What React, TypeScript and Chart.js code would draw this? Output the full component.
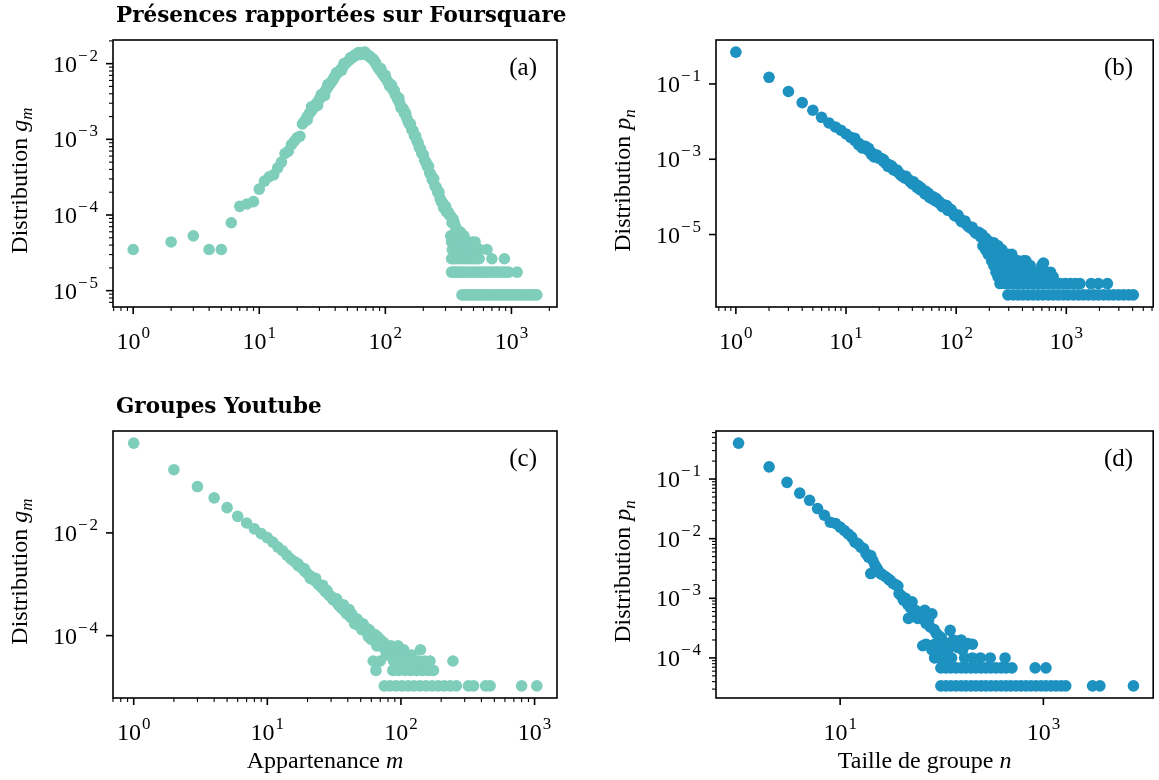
import React, { useEffect, useRef } from "react";
import { Chart, registerables } from "chart.js";

Chart.register(...registerables);

type Pt = [number, number];

// ---------------- DATA ----------------
const TITLES = ["Présences rapportées sur Foursquare", "Groupes Youtube"];
const PANEL_LABELS = ["(a)", "(b)", "(c)", "(d)"];
const Y_TITLE_TEXT = "Distribution ";
const X_TITLE_TEXTS = ["Appartenance ", "Taille de groupe "];
const VAR_MEMBERSHIP = ["g", "m"];
const VAR_SIZE = ["p", "n"];

// tick exponents (labels 10^k)
const A_X_EXP = [0, 1, 2, 3];
const A_Y_EXP = [-5, -4, -3, -2];
const B_X_EXP = [0, 1, 2, 3];
const B_Y_EXP = [-5, -3, -1];
const C_X_EXP = [0, 1, 2, 3];
const C_Y_EXP = [-4, -2];
const D_X_EXP = [1, 3];
const D_Y_EXP = [-4, -3, -2, -1];

// (a) Foursquare membership distribution g_m
const FSQ_G_BAND: Pt[] = [
  [1, 3.5e-5], [2, 4.4e-5], [3, 5.3e-5], [4, 3.5e-5], [5, 3.5e-5], [6, 7.9e-5], [7, 1.3e-4], [8, 1.4e-4], [9, 1.5e-4], [10, 2.2e-4],
  [11, 2.8e-4], [12, 3.2e-4], [13, 3.4e-4], [14, 4.2e-4], [15, 5.0e-4], [16, 6.5e-4], [17, 7.0e-4], [18, 8.5e-4], [19, 9.5e-4], [20, 1.05e-3],
  [21, 1.1e-3], [22, 1.6e-3], [23, 1.75e-3], [24, 2.0e-3], [25, 2.2e-3], [26, 2.4e-3], [27, 2.6e-3], [28, 2.9e-3], [29, 3.1e-3], [30, 3.4e-3],
  [31, 3.6e-3], [32, 3.9e-3], [33, 4.2e-3], [34, 4.6e-3], [35, 4.9e-3], [36, 5.3e-3], [37, 5.6e-3], [38, 6.0e-3], [39, 6.4e-3], [40, 6.9e-3],
  [42, 7.6e-3], [44, 8.3e-3], [46, 9.0e-3], [48, 9.9e-3], [50, 1.06e-2], [52, 1.12e-2], [54, 1.18e-2], [56, 1.24e-2], [58, 1.28e-2], [60, 1.33e-2],
  [62, 1.36e-2], [64, 1.38e-2], [66, 1.40e-2], [68, 1.38e-2], [70, 1.35e-2], [72, 1.30e-2], [75, 1.24e-2], [78, 1.17e-2], [81, 1.10e-2], [84, 1.0e-2],
  [87, 9.0e-3], [90, 8.3e-3], [94, 7.5e-3], [98, 6.8e-3], [102, 6.2e-3], [106, 5.6e-3], [110, 5.1e-3], [115, 4.5e-3], [120, 3.9e-3], [125, 3.4e-3],
  [130, 3.0e-3], [136, 2.6e-3], [142, 2.2e-3], [148, 1.9e-3], [155, 1.6e-3], [162, 1.35e-3], [170, 1.12e-3], [178, 9.5e-4], [186, 7.8e-4], [195, 6.5e-4],
  [205, 5.3e-4], [215, 4.4e-4], [225, 3.6e-4], [236, 2.9e-4], [248, 2.4e-4], [260, 2.0e-4], [272, 1.65e-4], [285, 1.45e-4], [300, 1.3e-4], [315, 1.1e-4],
  [330, 9.7e-5], [345, 8.8e-5], [360, 7.0e-5], [380, 6.2e-5], [395, 5.9e-5],
  [24, 1.8e-3], [26, 2.7e-3], [29, 2.8e-3], [31, 3.9e-3], [33, 3.8e-3], [35, 5.3e-3], [41, 7.6e-3], [45, 8.2e-3], [47, 1.0e-2], [53, 1.2e-2],
  [57, 1.3e-2], [61, 1.4e-2], [63, 1.32e-2], [67, 1.34e-2], [69, 1.42e-2], [74, 1.28e-2], [77, 1.2e-2], [80, 1.15e-2], [83, 1.05e-2], [92, 8.6e-3],
  [96, 7.3e-3], [100, 7.0e-3], [108, 5.1e-3], [112, 5.2e-3], [118, 4.4e-3], [128, 3.5e-3], [133, 2.6e-3], [139, 2.5e-3], [145, 2.2e-3], [152, 1.7e-3],
  [158, 1.6e-3], [166, 1.3e-3], [174, 1.1e-3], [182, 9.0e-4], [190, 7.5e-4], [200, 6.3e-4], [210, 5.0e-4], [220, 4.4e-4], [230, 3.4e-4], [242, 3.0e-4],
  [254, 2.3e-4], [266, 2.0e-4], [278, 1.5e-4], [290, 1.25e-4], [305, 1.1e-4], [322, 1.0e-4], [338, 7.9e-5], [352, 7.9e-5], [370, 6.2e-5], [385, 5.3e-5],
];
const FSQ_G_TAIL: Pt[] = [
  [330, 5.3e-5], [350, 5.3e-5], [372, 5.3e-5], [400, 5.3e-5], [420, 5.3e-5],
  [335, 4.4e-5], [355, 4.4e-5], [378, 4.4e-5], [405, 4.4e-5], [430, 4.4e-5], [455, 4.4e-5], [490, 4.4e-5], [515, 4.4e-5],
  [340, 3.5e-5], [365, 3.5e-5], [390, 3.5e-5], [415, 3.5e-5], [440, 3.5e-5], [470, 3.5e-5], [500, 3.5e-5], [560, 3.5e-5], [640, 3.5e-5],
  [335, 2.64e-5], [350, 2.64e-5], [370, 2.64e-5], [390, 2.64e-5], [410, 2.64e-5], [430, 2.64e-5], [455, 2.64e-5], [480, 2.64e-5], [505, 2.64e-5],
  [530, 2.64e-5], [555, 2.64e-5], [700, 2.64e-5], [880, 2.64e-5],
  [335, 1.76e-5], [350, 1.76e-5], [365, 1.76e-5], [380, 1.76e-5], [400, 1.76e-5], [420, 1.76e-5], [445, 1.76e-5], [470, 1.76e-5], [495, 1.76e-5],
  [520, 1.76e-5], [550, 1.76e-5], [580, 1.76e-5], [610, 1.76e-5], [640, 1.76e-5], [680, 1.76e-5], [720, 1.76e-5], [760, 1.76e-5], [800, 1.76e-5],
  [850, 1.76e-5], [900, 1.76e-5], [950, 1.76e-5], [1110, 1.76e-5],
  [405, 8.8e-6], [420, 8.8e-6], [440, 8.8e-6], [460, 8.8e-6], [485, 8.8e-6], [510, 8.8e-6], [535, 8.8e-6], [560, 8.8e-6], [590, 8.8e-6],
  [620, 8.8e-6], [650, 8.8e-6], [690, 8.8e-6], [730, 8.8e-6], [770, 8.8e-6], [810, 8.8e-6], [860, 8.8e-6], [910, 8.8e-6], [960, 8.8e-6],
  [1010, 8.8e-6], [1070, 8.8e-6], [1130, 8.8e-6], [1200, 8.8e-6], [1270, 8.8e-6], [1350, 8.8e-6], [1430, 8.8e-6], [1510, 8.8e-6], [1590, 8.8e-6],
];

// (b) Foursquare group size distribution p_n
const FSQ_P_BAND: Pt[] = [
  [1, 0.7], [2, 0.15], [3, 0.063], [4, 0.032], [5, 0.02], [6, 0.013], [7, 9.2e-3], [8, 7.2e-3], [9, 5.9e-3], [10, 4.7e-3],
  [11, 3.83e-3], [12, 3.18e-3], [13, 2.67e-3], [14, 2.28e-3], [15, 1.97e-3], [16, 1.71e-3], [17, 1.5e-3], [18, 1.33e-3], [19, 1.18e-3], [20, 1.06e-3],
  [22, 8.6e-4], [24, 7.2e-4], [26, 6.0e-4], [28, 5.1e-4], [30, 4.4e-4], [33, 3.6e-4], [36, 3.0e-4], [39, 2.5e-4], [42, 2.15e-4], [46, 1.77e-4],
  [50, 1.48e-4], [54, 1.25e-4], [58, 1.07e-4], [63, 9.0e-5], [68, 7.6e-5], [74, 6.4e-5], [80, 5.4e-5], [87, 4.5e-5], [94, 3.7e-5], [100, 3.1e-5],
  [108, 2.6e-5], [116, 2.2e-5], [125, 1.8e-5], [135, 1.5e-5], [145, 1.25e-5], [155, 1.05e-5], [167, 8.6e-6], [180, 7.2e-6], [195, 6.0e-6], [210, 5.0e-6],
  [12, 3.6e-3], [14, 2.0e-3], [16, 1.95e-3], [18, 1.15e-3], [21, 1.05e-3], [23, 7.8e-4], [25, 7.0e-4], [27, 5.2e-4], [29, 5.2e-4], [32, 3.6e-4],
  [35, 3.5e-4], [38, 2.6e-4], [41, 2.5e-4], [44, 1.8e-4], [48, 1.75e-4], [52, 1.2e-4], [56, 1.25e-4], [60, 9.0e-5], [66, 9.0e-5], [71, 6.6e-5],
  [77, 6.2e-5], [84, 4.4e-5], [90, 4.6e-5], [97, 3.2e-5], [104, 3.3e-5], [112, 2.2e-5], [120, 2.3e-5], [130, 1.6e-5], [140, 1.55e-5], [150, 1.1e-5],
  [160, 1.15e-5], [172, 1.0e-5], [185, 8.0e-6], [200, 6.5e-6], [220, 6.0e-6], [240, 4.5e-6],
  [13, 2.45e-3], [15, 2.2e-3], [17, 1.35e-3], [19, 1.3e-3], [22, 9.6e-4], [24, 6.5e-4], [26, 6.6e-4], [31, 4.0e-4], [34, 3.2e-4], [37, 2.9e-4],
  [40, 2.2e-4], [45, 2.0e-4], [47, 1.55e-4], [53, 1.4e-4], [57, 9.8e-5], [62, 1.0e-4], [65, 7.8e-5], [70, 7.5e-5], [75, 5.5e-5], [82, 5.9e-5],
];
const FSQ_P_TAIL: Pt[] = [
  [175, 5e-6], [195, 5e-6], [220, 5e-6], [240, 5e-6],
  [185, 4e-6], [205, 4e-6], [230, 4e-6], [260, 4e-6],
  [195, 3e-6], [215, 3e-6], [240, 3e-6], [265, 3e-6], [295, 3e-6], [320, 3e-6],
  [210, 2e-6], [235, 2e-6], [260, 2e-6], [290, 2e-6], [325, 2e-6], [365, 2e-6], [410, 2e-6], [430, 2e-6],
  [620, 1.75e-6],
  [220, 1.5e-6], [245, 1.5e-6], [275, 1.5e-6], [305, 1.5e-6], [340, 1.5e-6], [380, 1.5e-6], [420, 1.5e-6], [470, 1.5e-6], [600, 1.5e-6],
  [230, 1e-6], [255, 1e-6], [285, 1e-6], [320, 1e-6], [355, 1e-6], [395, 1e-6], [440, 1e-6], [490, 1e-6], [545, 1e-6], [610, 1e-6], [680, 1e-6], [720, 1e-6],
  [240, 7.5e-7], [265, 7.5e-7], [295, 7.5e-7], [330, 7.5e-7], [365, 7.5e-7], [405, 7.5e-7], [450, 7.5e-7], [500, 7.5e-7], [555, 7.5e-7], [615, 7.5e-7], [685, 7.5e-7], [760, 7.5e-7],
  [250, 5e-7], [280, 5e-7], [310, 5e-7], [345, 5e-7], [385, 5e-7], [425, 5e-7], [470, 5e-7], [520, 5e-7], [575, 5e-7], [640, 5e-7], [710, 5e-7],
  [790, 5e-7], [880, 5e-7], [980, 5e-7], [1090, 5e-7], [1210, 5e-7], [1330, 5e-7], [1680, 5e-7], [1950, 5e-7], [2360, 5e-7],
  [295, 2.5e-7], [330, 2.5e-7], [365, 2.5e-7], [405, 2.5e-7], [450, 2.5e-7], [500, 2.5e-7], [555, 2.5e-7], [615, 2.5e-7], [685, 2.5e-7],
  [760, 2.5e-7], [845, 2.5e-7], [940, 2.5e-7], [1040, 2.5e-7], [1160, 2.5e-7], [1290, 2.5e-7], [1430, 2.5e-7], [1590, 2.5e-7], [1770, 2.5e-7],
  [1960, 2.5e-7], [2180, 2.5e-7], [2420, 2.5e-7], [2690, 2.5e-7], [2990, 2.5e-7], [3320, 2.5e-7], [3690, 2.5e-7], [4060, 2.5e-7],
];

// (c) Youtube membership distribution g_m
const YT_G_BAND: Pt[] = [
  [1, 0.56], [2, 0.17], [3, 0.08], [4, 0.048], [5, 0.031], [6, 0.021], [7, 0.0156], [8, 0.012], [9, 9.7e-3], [10, 8.1e-3],
  [11, 6.6e-3], [12, 5.3e-3], [13, 4.5e-3], [14, 3.7e-3], [15, 3.1e-3], [16, 2.75e-3], [17, 2.3e-3], [18, 2.1e-3], [19, 1.8e-3], [20, 1.6e-3],
  [21, 1.45e-3], [22, 1.25e-3], [23, 1.15e-3], [24, 1.0e-3], [25, 9.2e-4], [26, 8.3e-4], [27, 7.3e-4], [28, 6.8e-4], [29, 6.1e-4], [30, 5.8e-4],
  [32, 4.8e-4], [34, 4.0e-4], [36, 3.4e-4], [38, 3.0e-4], [40, 2.6e-4], [42, 2.3e-4], [44, 2.1e-4], [46, 1.9e-4], [48, 1.6e-4], [50, 1.5e-4],
  [53, 1.3e-4], [56, 1.15e-4], [59, 1.0e-4], [62, 9.5e-5], [65, 8.4e-5], [68, 7.4e-5], [72, 6.3e-5], [76, 5.3e-5],
  [17, 2.5e-3], [19, 2.0e-3], [21, 1.3e-3], [23, 1.3e-3], [26, 9.5e-4], [28, 7.5e-4], [31, 5.0e-4], [33, 5.2e-4], [35, 3.7e-4], [37, 4.0e-4],
  [39, 2.7e-4], [41, 3.2e-4], [43, 2.6e-4], [45, 1.7e-4], [47, 2.1e-4], [49, 1.8e-4], [51, 1.3e-4], [52, 1.7e-4], [55, 1.4e-4], [57, 9.5e-5],
  [58, 1.3e-4], [60, 8.4e-5], [61, 1.05e-4], [64, 1.05e-4], [66, 6.3e-5], [67, 9.5e-5], [70, 8.4e-5], [74, 7.4e-5], [78, 4.2e-5], [80, 5.3e-5],
  [84, 6.3e-5], [88, 5.3e-5], [92, 4.2e-5], [95, 6.3e-5],
];
const YT_G_TAIL: Pt[] = [
  [90, 5.3e-5], [105, 5.3e-5], [140, 5.3e-5],
  [85, 4.2e-5], [100, 4.2e-5], [120, 4.2e-5],
  [62, 3.2e-5], [70, 3.2e-5], [88, 3.2e-5], [100, 3.2e-5], [110, 3.2e-5], [122, 3.2e-5], [135, 3.2e-5], [150, 3.2e-5], [165, 3.2e-5], [245, 3.2e-5],
  [65, 2.1e-5], [87, 2.1e-5], [96, 2.1e-5], [107, 2.1e-5], [118, 2.1e-5], [131, 2.1e-5], [145, 2.1e-5], [161, 2.1e-5], [175, 2.1e-5],
  [75, 1.05e-5], [83, 1.05e-5], [92, 1.05e-5], [102, 1.05e-5], [113, 1.05e-5], [125, 1.05e-5], [139, 1.05e-5], [154, 1.05e-5], [171, 1.05e-5],
  [190, 1.05e-5], [211, 1.05e-5], [234, 1.05e-5], [260, 1.05e-5], [320, 1.05e-5], [350, 1.05e-5], [430, 1.05e-5], [465, 1.05e-5], [800, 1.05e-5], [1040, 1.05e-5],
];

// (d) Youtube group size distribution p_n
const YT_P_BAND: Pt[] = [
  [1, 0.4], [2, 0.16], [3, 0.088], [4, 0.058], [5, 0.044], [6, 0.032], [7, 0.0247], [8, 0.0189], [9, 0.018], [10, 0.0156],
  [11, 0.0137], [12, 0.012], [13, 0.0106], [14, 8.7e-3], [15, 8.2e-3], [16, 7.2e-3], [17, 6.8e-3], [18, 5.6e-3], [19, 4.9e-3], [20, 5.2e-3],
  [20, 2.6e-3], [21, 4.3e-3], [22, 3.6e-3], [23, 3.2e-3], [24, 2.8e-3], [25, 2.6e-3], [26, 2.5e-3], [28, 2.3e-3], [30, 2.1e-3], [31, 2.0e-3],
  [33, 1.8e-3], [35, 1.7e-3], [37, 1.6e-3], [38, 1.2e-3], [40, 1.1e-3], [42, 9.3e-4], [44, 1.0e-3], [46, 8.0e-4], [47, 4.6e-4], [49, 7.0e-4],
  [51, 8.7e-4], [53, 6.5e-4], [55, 6.3e-4], [58, 4.6e-4], [60, 5.5e-4], [63, 4.8e-4], [65, 1.6e-4], [68, 6.3e-4], [70, 3.8e-4], [74, 4.3e-4],
  [77, 3.3e-4], [80, 5.5e-4], [84, 3.0e-4], [88, 2.6e-4], [92, 2.4e-4], [99, 2.2e-4], [103, 1.5e-4], [111, 1.75e-4], [121, 2.9e-4], [130, 2.0e-4],
  [143, 1.5e-4], [155, 2.0e-4], [168, 1.6e-4], [181, 1.75e-4],
];
const YT_P_TAIL: Pt[] = [
  [70, 1.7e-4], [85, 1.7e-4], [150, 1.7e-4], [200, 1.7e-4],
  [80, 1.36e-4], [92, 1.36e-4], [100, 1.36e-4], [115, 1.36e-4], [160, 1.36e-4],
  [85, 1.0e-4], [95, 1.0e-4], [110, 1.0e-4], [125, 1.0e-4], [168, 1.0e-4], [200, 1.0e-4], [240, 1.0e-4], [300, 1.0e-4], [420, 1.0e-4],
  [98, 6.8e-5], [110, 6.8e-5], [123, 6.8e-5], [138, 6.8e-5], [155, 6.8e-5], [173, 6.8e-5], [194, 6.8e-5], [217, 6.8e-5], [243, 6.8e-5],
  [272, 6.8e-5], [305, 6.8e-5], [342, 6.8e-5], [383, 6.8e-5], [429, 6.8e-5], [490, 6.8e-5], [830, 6.8e-5], [1060, 6.8e-5],
  [98, 3.4e-5], [110, 3.4e-5], [123, 3.4e-5], [138, 3.4e-5], [155, 3.4e-5], [173, 3.4e-5], [194, 3.4e-5], [217, 3.4e-5], [243, 3.4e-5],
  [272, 3.4e-5], [305, 3.4e-5], [342, 3.4e-5], [383, 3.4e-5], [429, 3.4e-5], [480, 3.4e-5], [538, 3.4e-5], [602, 3.4e-5], [675, 3.4e-5],
  [756, 3.4e-5], [846, 3.4e-5], [948, 3.4e-5], [1060, 3.4e-5], [1190, 3.4e-5], [1330, 3.4e-5], [1490, 3.4e-5], [1660, 3.4e-5],
  [3050, 3.4e-5], [3600, 3.4e-5], [7700, 3.4e-5],
];

// ---------------- STYLE ----------------
const SERIF = '"Liberation Serif", "Times New Roman", serif';
const BOLD_SERIF = '"DejaVu Serif", serif';
const MINT = "#7fcdbb";
const BLUE = "#1d91c0";
const TICK_SIZE = 24;
const SUP_SIZE = 17;
const AXIS_TITLE_SIZE = 24;
const PANEL_LABEL_SIZE = 25;

type Box = { l: number; t: number; r: number; b: number };
type PanelCfg = {
  x0: number; y0: number; w: number; h: number; box: Box;
  pts: Pt[]; color: string;
  xExp: number[]; yExp: number[]; xMinor: boolean; yMinor: boolean;
  label: string; title?: string; yVar: string[]; xTitle?: string; xVar?: string[];
};

const PANELS: PanelCfg[] = [
  { x0: 0, y0: 0, w: 640, h: 390, box: { l: 113, t: 40, r: 557, b: 307 }, pts: [...FSQ_G_BAND, ...FSQ_G_TAIL], color: MINT,
    xExp: A_X_EXP, yExp: A_Y_EXP, xMinor: true, yMinor: true, label: PANEL_LABELS[0], title: TITLES[0], yVar: VAR_MEMBERSHIP },
  { x0: 580, y0: 0, w: 579, h: 390, box: { l: 136, t: 40, r: 578, b: 307 }, pts: [...FSQ_P_BAND, ...FSQ_P_TAIL], color: BLUE,
    xExp: B_X_EXP, yExp: B_Y_EXP, xMinor: true, yMinor: false, label: PANEL_LABELS[1], yVar: VAR_SIZE },
  { x0: 0, y0: 390, w: 640, h: 390, box: { l: 113, t: 41, r: 557, b: 308 }, pts: [...YT_G_BAND, ...YT_G_TAIL], color: MINT,
    xExp: C_X_EXP, yExp: C_Y_EXP, xMinor: true, yMinor: false, label: PANEL_LABELS[2], title: TITLES[1], yVar: VAR_MEMBERSHIP,
    xTitle: X_TITLE_TEXTS[0], xVar: ["m"] },
  { x0: 580, y0: 390, w: 579, h: 390, box: { l: 136, t: 41, r: 578, b: 308 }, pts: [...YT_P_BAND, ...YT_P_TAIL], color: BLUE,
    xExp: D_X_EXP, yExp: D_Y_EXP, xMinor: false, yMinor: true, label: PANEL_LABELS[3], yVar: VAR_SIZE,
    xTitle: X_TITLE_TEXTS[1], xVar: ["n"] },
];

function logRange(vals: number[]): [number, number] {
  const lo = Math.log10(Math.min(...vals));
  const hi = Math.log10(Math.max(...vals));
  const m = (hi - lo) * 0.05;
  return [Math.pow(10, lo - m), Math.pow(10, hi + m)];
}

type Seg = { t: string; it?: boolean; sub?: boolean };
function segFont(s: Seg, size: number) {
  const sz = s.sub ? Math.round(size * 0.7) : size;
  return `${s.it ? "italic " : ""}${sz}px ${SERIF}`;
}
function drawRich(ctx: CanvasRenderingContext2D, segs: Seg[], x: number, y: number, size: number, align: "left" | "center") {
  let w = 0;
  for (const s of segs) { ctx.font = segFont(s, size); w += ctx.measureText(s.t).width; }
  let cx = align === "center" ? x - w / 2 : x;
  ctx.textAlign = "left";
  ctx.textBaseline = "alphabetic";
  for (const s of segs) {
    ctx.font = segFont(s, size);
    ctx.fillText(s.t, cx, y + (s.sub ? size * 0.22 : 0));
    cx += ctx.measureText(s.t).width;
  }
}
function drawPow(ctx: CanvasRenderingContext2D, exp: number, x: number, y: number, align: "center" | "right") {
  const neg = exp < 0;
  const digits = String(Math.abs(exp));
  ctx.font = `${TICK_SIZE}px ${SERIF}`;
  const wb = ctx.measureText("10").width;
  ctx.font = `${SUP_SIZE}px ${SERIF}`;
  const wm = neg ? ctx.measureText("\u2212").width + 2 : 0;
  const wd = ctx.measureText(digits).width;
  const w = wb + 1 + wm + wd;
  const x0 = align === "center" ? x - w / 2 : x - w;
  ctx.textAlign = "left";
  ctx.textBaseline = "alphabetic";
  ctx.font = `${TICK_SIZE}px ${SERIF}`;
  ctx.fillText("10", x0, y);
  ctx.font = `${SUP_SIZE}px ${SERIF}`;
  if (neg) ctx.fillText("\u2212", x0 + wb + 1, y - 11);
  ctx.fillText(digits, x0 + wb + 1 + wm, y - 11);
}

function minorValues(min: number, max: number): number[] {
  const out: number[] = [];
  for (let k = Math.floor(Math.log10(min)); k <= Math.ceil(Math.log10(max)); k++) {
    for (let d = 2; d <= 9; d++) {
      const v = d * Math.pow(10, k);
      if (v >= min && v <= max) out.push(v);
    }
  }
  return out;
}

function makeAxesPlugin(cfg: PanelCfg) {
  return {
    id: "mplAxes",
    afterDraw(chart: any) {
      const ctx: CanvasRenderingContext2D = chart.ctx;
      const xs = chart.scales.x;
      const ys = chart.scales.y;
      const { left, right, top, bottom } = chart.chartArea;
      ctx.save();
      ctx.strokeStyle = "#000";
      ctx.fillStyle = "#000";
      ctx.lineWidth = 1.6;
      ctx.strokeRect(left, top, right - left, bottom - top);
      ctx.lineWidth = 1.1;
      if (cfg.xMinor) {
        for (const v of minorValues(xs.min, xs.max)) {
          const px = xs.getPixelForValue(v);
          ctx.beginPath(); ctx.moveTo(px, bottom); ctx.lineTo(px, bottom + 4); ctx.stroke();
        }
      }
      if (cfg.yMinor) {
        for (const v of minorValues(ys.min, ys.max)) {
          const py = ys.getPixelForValue(v);
          ctx.beginPath(); ctx.moveTo(left, py); ctx.lineTo(left - 4, py); ctx.stroke();
        }
      }
      ctx.lineWidth = 1.6;
      for (const e of cfg.xExp) {
        const px = xs.getPixelForValue(Math.pow(10, e));
        ctx.beginPath(); ctx.moveTo(px, bottom); ctx.lineTo(px, bottom + 7); ctx.stroke();
        drawPow(ctx, e, px, bottom + 42, "center");
      }
      for (const e of cfg.yExp) {
        const py = ys.getPixelForValue(Math.pow(10, e));
        ctx.beginPath(); ctx.moveTo(left, py); ctx.lineTo(left - 7, py); ctx.stroke();
        drawPow(ctx, e, left - 15, py + 8, "right");
      }
      ctx.font = `${PANEL_LABEL_SIZE}px ${SERIF}`;
      ctx.textAlign = "right";
      ctx.textBaseline = "alphabetic";
      ctx.fillText(cfg.label, right - 20, top + 35);
      ctx.save();
      ctx.translate(left - 86, (top + bottom) / 2 + 7);
      ctx.rotate(-Math.PI / 2);
      drawRich(ctx, [{ t: Y_TITLE_TEXT }, { t: cfg.yVar[0], it: true }, { t: cfg.yVar[1], it: true, sub: true }], 0, 0, AXIS_TITLE_SIZE, "center");
      ctx.restore();
      if (cfg.xTitle && cfg.xVar) {
        drawRich(ctx, [{ t: cfg.xTitle }, { t: cfg.xVar[0], it: true }], (left + right) / 2 - 10, bottom + 70, AXIS_TITLE_SIZE, "center");
      }
      if (cfg.title) {
        ctx.font = `bold 21.5px ${BOLD_SERIF}`;
        ctx.textAlign = "left";
        ctx.fillText(cfg.title, left + 3, top - 18);
      }
      ctx.restore();
    },
  };
}

function Panel({ cfg }: { cfg: PanelCfg }) {
  const ref = useRef<HTMLCanvasElement>(null);
  useEffect(() => {
    const [xmin, xmax] = logRange(cfg.pts.map((p) => p[0]));
    const [ymin, ymax] = logRange(cfg.pts.map((p) => p[1]));
    const chart = new Chart(ref.current as HTMLCanvasElement, {
      type: "scatter",
      data: {
        datasets: [
          {
            data: cfg.pts.map(([x, y]) => ({ x, y })),
            backgroundColor: cfg.color,
            pointBackgroundColor: cfg.color,
            borderWidth: 0,
            pointBorderWidth: 0,
            pointRadius: 5.8,
            pointHoverRadius: 5.8,
          },
        ],
      },
      options: {
        animation: false,
        responsive: false,
        devicePixelRatio: 1,
        events: [],
        layout: { padding: { left: cfg.box.l, top: cfg.box.t, right: cfg.w - cfg.box.r, bottom: cfg.h - cfg.box.b } },
        plugins: { legend: { display: false }, tooltip: { enabled: false }, title: { display: false } },
        scales: {
          x: { type: "logarithmic", min: xmin, max: xmax, display: false },
          y: { type: "logarithmic", min: ymin, max: ymax, display: false },
        },
      } as any,
      plugins: [makeAxesPlugin(cfg)],
    });
    return () => chart.destroy();
  }, [cfg]);
  return (
    <canvas
      ref={ref}
      width={cfg.w}
      height={cfg.h}
      style={{ position: "absolute", left: cfg.x0, top: cfg.y0, width: cfg.w, height: cfg.h }}
    />
  );
}

export default function App() {
  return (
    <div style={{ position: "fixed", left: 0, top: 0, width: 1159, height: 780, background: "#fff", overflow: "hidden" }}>
      {PANELS.map((p, i) => (
        <Panel key={i} cfg={p} />
      ))}
    </div>
  );
}
